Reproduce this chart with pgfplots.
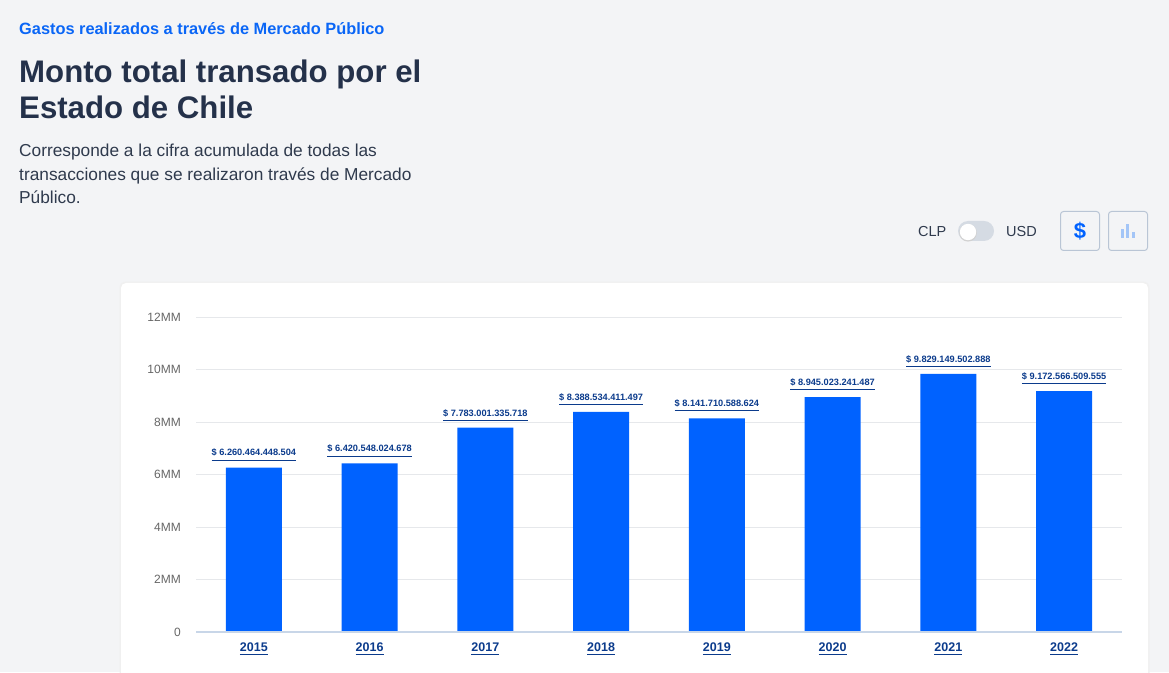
\documentclass[border=0pt]{standalone}
\usepackage{pgfplots}
\pgfplotsset{compat=1.18}
\usepackage{pgfplotstable}
\usepackage{fontspec}
\setmainfont{Liberation Sans}
\definecolor{bg}{HTML}{F3F4F6}
\definecolor{barblue}{HTML}{0062FF}
\definecolor{titlenavy}{HTML}{24314A}
\definecolor{subblue}{HTML}{0A66F6}
\definecolor{desctext}{HTML}{2F3A4D}
\definecolor{labelnavy}{HTML}{0B3B8C}
\definecolor{gridgray}{HTML}{E6E8EB}
\definecolor{tickgray}{HTML}{666666}
\definecolor{axisline}{HTML}{C8D6E8}
\definecolor{btnborder}{HTML}{B9C5D5}
\definecolor{togglegray}{HTML}{D5DBE3}
\definecolor{iconblue}{HTML}{A3C5F7}
\newcommand\ulbox[3]{\vtop{\hbox{#3}\kern#1\hrule height #2}}
\pgfplotstableread{
x y label
0 6.260464448504 6.260.464.448.504
1 6.420548024678 6.420.548.024.678
2 7.783001335718 7.783.001.335.718
3 8.388534411497 8.388.534.411.497
4 8.141710588624 8.141.710.588.624
5 8.945023241487 8.945.023.241.487
6 9.829149502888 9.829.149.502.888
7 9.172566509555 9.172.566.509.555
}\montos
\begin{document}
\begin{tikzpicture}[x=1pt,y=1pt]
\path[use as bounding box, fill=bg] (0,0) rectangle (1169,672);
\fill[black!6, rounded corners=6pt] (119.5,-10) rectangle (1149.5,390.3);
\fill[white, rounded corners=5pt] (121,-10) rectangle (1148,389);
% header texts
\node[anchor=base west, inner sep=0, text=subblue, font=\bfseries\fontsize{16.35}{19}\selectfont] at (19,637.7) {Gastos realizados a través de Mercado Público};
\node[anchor=base west, inner sep=0, text=titlenavy, font=\bfseries\fontsize{31.2}{36}\selectfont] at (19,589.3) {Monto total transado por el};
\node[anchor=base west, inner sep=0, text=titlenavy, font=\bfseries\fontsize{31.2}{36}\selectfont] at (19,553) {Estado de Chile};
\node[anchor=base west, inner sep=0, text=desctext, font=\fontsize{17.3}{22}\selectfont] at (19,515.3) {Corresponde a la cifra acumulada de todas las};
\node[anchor=base west, inner sep=0, text=desctext, font=\fontsize{17.3}{22}\selectfont] at (19,491.3) {transacciones que se realizaron través de Mercado};
\node[anchor=base west, inner sep=0, text=desctext, font=\fontsize{17.3}{22}\selectfont] at (19,468) {Público.};
% controls
\node[anchor=base west, inner sep=0, text=desctext, font=\fontsize{14.5}{17}\selectfont] at (918,435) {CLP};
\node[anchor=base west, inner sep=0, text=desctext, font=\fontsize{14.5}{17}\selectfont] at (1006,435) {USD};
\fill[togglegray, rounded corners=10pt] (958,431) rectangle (994,451);
\fill[black!18] (968,439.2) circle (8.8);
\fill[white] (968,440) circle (8.2);
\draw[btnborder, line width=1pt, rounded corners=3pt] (1060.5,421.5) rectangle (1099.5,460.5);
\node[text=barblue, font=\bfseries\fontsize{22}{22}\selectfont] at (1080,440.5) {\$};
\draw[btnborder, line width=1pt, rounded corners=3pt] (1108.5,421.5) rectangle (1147.5,460.5);
\fill[iconblue] (1120.5,434) rectangle (1123.5,443);
\fill[iconblue] (1125.5,434) rectangle (1128.5,448);
\fill[iconblue] (1131.5,434) rectangle (1134.5,440);
\begin{axis}[
  at={(196pt,40pt)}, anchor=south west,
  scale only axis, width=926pt, height=315pt,
  xmin=-0.5, xmax=7.5, ymin=0, ymax=12,
  ytick={0,2,4,6,8,10,12},
  yticklabels={\mbox{0},\mbox{2MM},\mbox{4MM},\mbox{6MM},\mbox{8MM},\mbox{10MM},\mbox{12MM}},
  xtick={0,1,2,3,4,5,6,7},
  xticklabels={\ulbox{2.3pt}{1.3pt}{2015},\ulbox{2.3pt}{1.3pt}{2016},\ulbox{2.3pt}{1.3pt}{2017},\ulbox{2.3pt}{1.3pt}{2018},\ulbox{2.3pt}{1.3pt}{2019},\ulbox{2.3pt}{1.3pt}{2020},\ulbox{2.3pt}{1.3pt}{2021},\ulbox{2.3pt}{1.3pt}{2022}},
  axis line style={draw=none},
  major tick length=0pt,
  ymajorgrids, grid style={gridgray, line width=0.9pt},
  /pgf/number format/assume math mode=true,
  yticklabel style={font=\fontsize{12}{12}\selectfont, text=tickgray, anchor=east, inner sep=0pt, xshift=-15pt},
  xticklabel style={font=\bfseries\fontsize{12.5}{13}\selectfont, text=labelnavy, anchor=north, inner sep=0pt, yshift=-10.6pt},
  ybar, bar width=56pt,
  point meta=explicit symbolic,
  nodes near coords={\ulbox{3.1pt}{1pt}{\$ \pgfplotspointmeta}},
  every node near coord/.append style={font=\bfseries\fontsize{9.2}{10}\selectfont, text=labelnavy, anchor=south, inner sep=0pt, yshift=6.7pt},
  clip=false,
]
\addplot[fill=barblue, draw=none] table[x=x, y=y, meta=label] {\montos};
\draw[axisline, line width=1.3pt] (axis cs:-0.5,0) -- (axis cs:7.5,0);
\end{axis}
\end{tikzpicture}
\end{document}
